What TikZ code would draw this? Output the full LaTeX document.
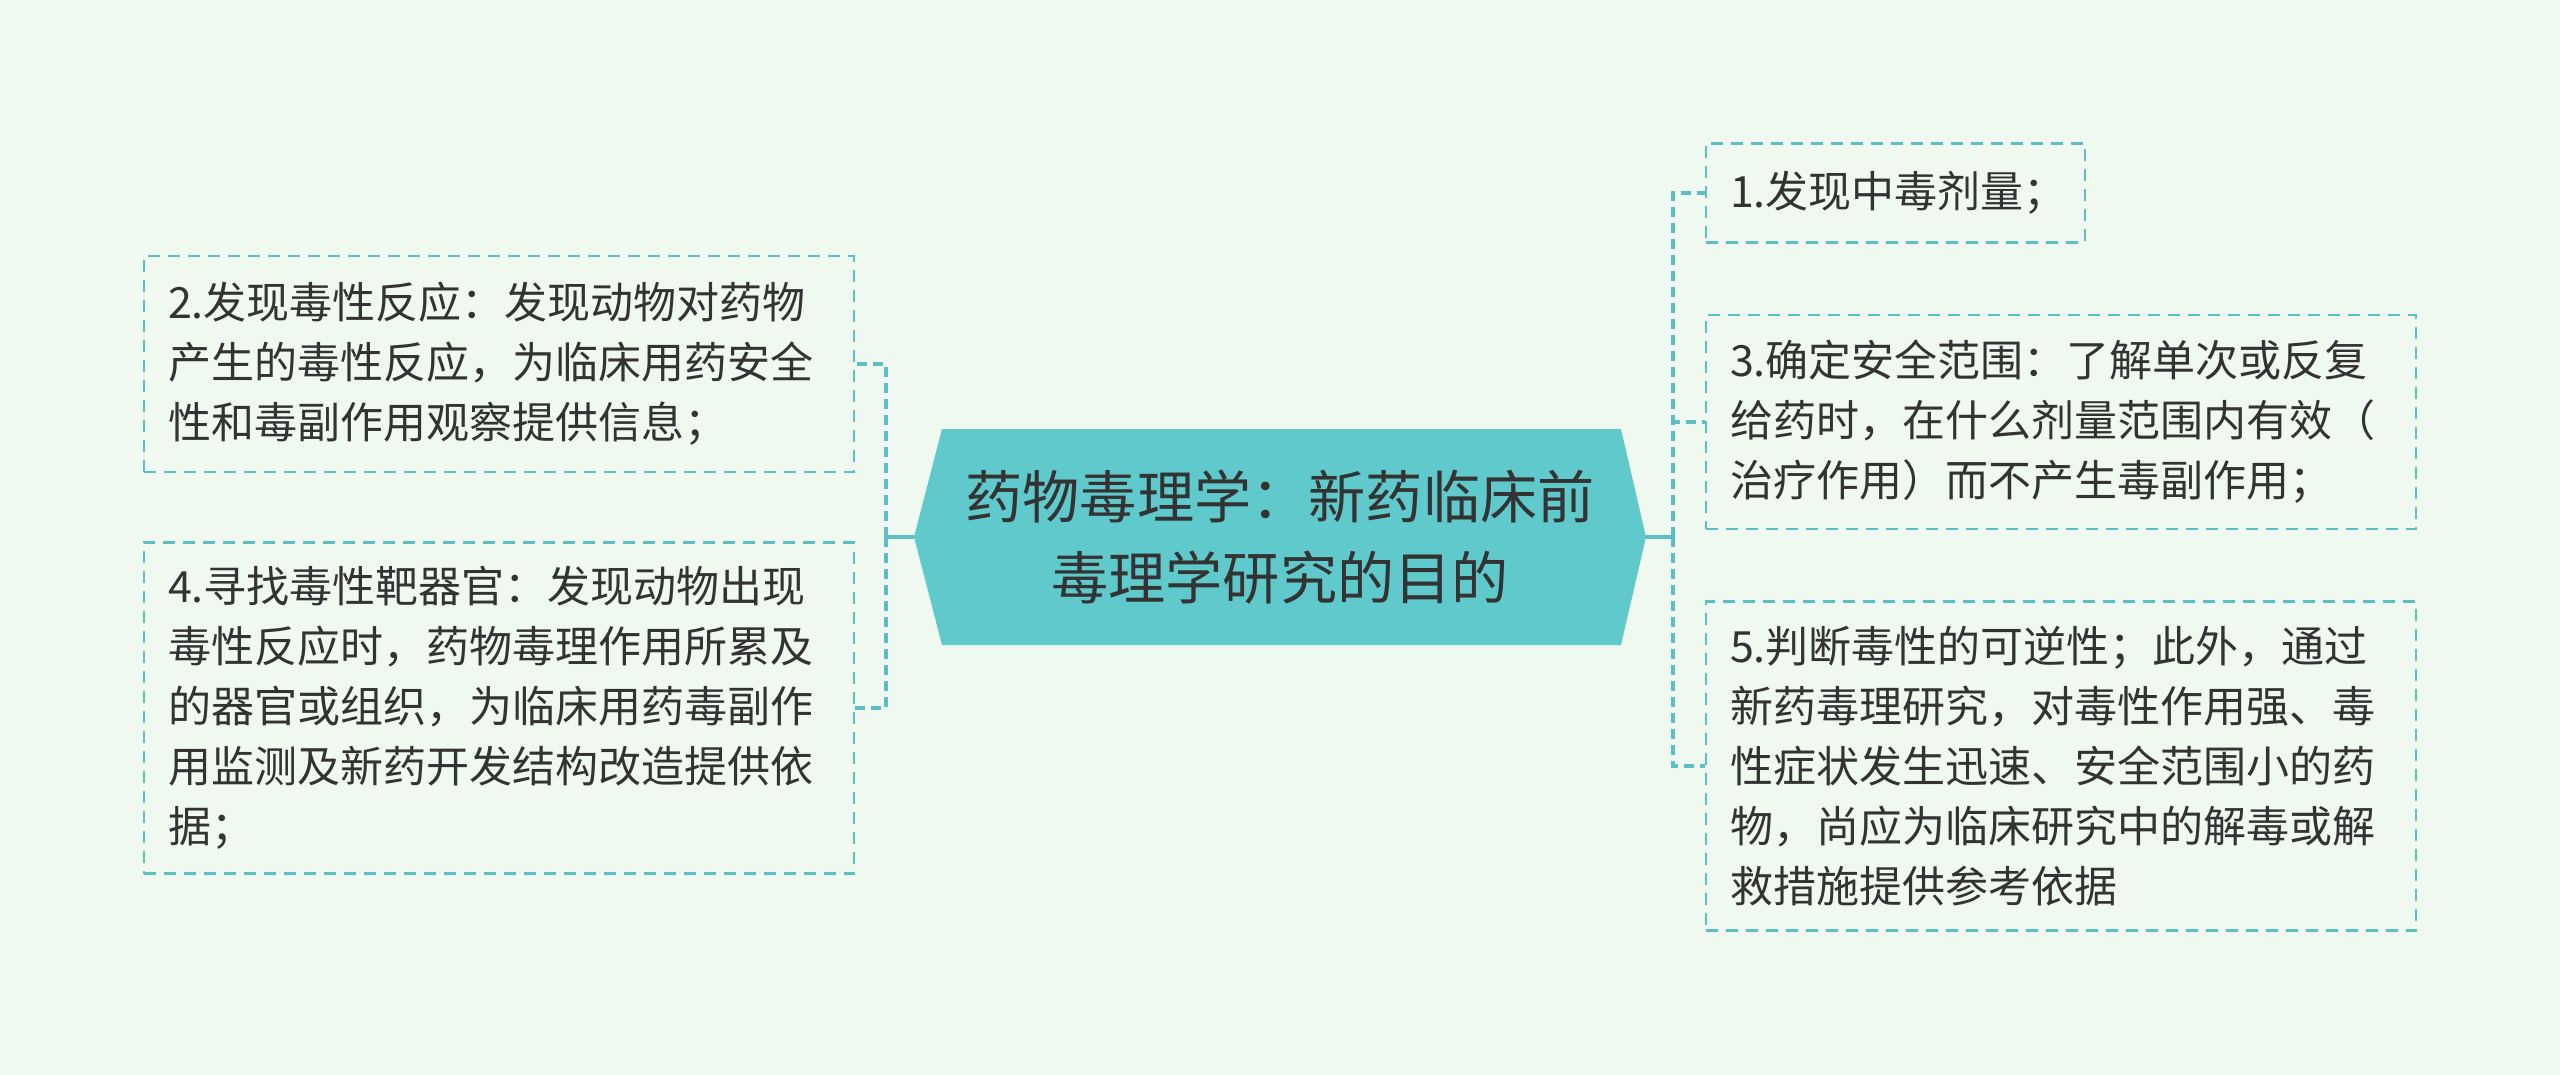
\documentclass[tikz,border=0pt]{standalone}
\usepackage{fontspec}
\setmainfont{Noto Sans CJK SC}
\definecolor{bgcol}{HTML}{F0F9EF}
\definecolor{rootfill}{HTML}{5FC9CC}
\definecolor{linecol}{HTML}{5CBFC4}
\definecolor{txtcol}{HTML}{333333}
\begin{document}
\begin{tikzpicture}[x = 0.5pt, y = -0.5pt,
    leaf/.style = {draw = linecol, line width = 1.2pt, dash pattern = on 6pt off 4pt,
        align = left, inner sep = 12pt, text = txtcol,
        font = \fontsize{21.5}{30}\selectfont},
    link/.style = {draw = linecol, line width = 1.8pt, dash pattern = on 5pt off 3pt},
    stem/.style = {draw = linecol, line width = 1.8pt}]
    \fill[bgcol] (0,0) rectangle (2560,1075);
    \useasboundingbox (0,0) rectangle (2560,1075);
    % central topic
    \coordinate (rootW) at (914,537);
    \coordinate (rootE) at (1646,537);
    \fill[rootfill] (rootW) -- (942,429) -- (1621,429) -- (rootE) -- (1621,645) -- (942,645) -- cycle;
    \node[align = center, text = txtcol, font = \fontsize{28.6}{40.8}\selectfont] (root) at (1280,537)
        {药物毒理学：新药临床前\\毒理学研究的目的};
    % left side
    \node[leaf, text width = 331pt, minimum height = 108pt] (n2) at (499,364)
        {2.发现毒性反应：发现动物对药物\\产生的毒性反应，为临床用药安全\\性和毒副作用观察提供信息；};
    \node[leaf, text width = 331pt, minimum height = 164.5pt] (n4) at (499,708)
        {4.寻找毒性靶器官：发现动物出现\\毒性反应时，药物毒理作用所累及\\的器官或组织，为临床用药毒副作\\用监测及新药开发结构改造提供依\\据；};
    % right side
    \node[leaf, text width = 165.5pt, minimum height = 49.5pt] (n1) at (1895.5,193)
        {1.发现中毒剂量；};
    \node[leaf, text width = 331pt, minimum height = 107pt] (n3) at (2061,422)
        {3.确定安全范围：了解单次或反复\\给药时，在什么剂量范围内有效（\\治疗作用）而不产生毒副作用；};
    \node[leaf, text width = 331pt, minimum height = 164.5pt] (n5) at (2061,766)
        {5.判断毒性的可逆性；此外，通过\\新药毒理研究，对毒性作用强、毒\\性症状发生迅速、安全范围小的药\\物，尚应为临床研究中的解毒或解\\救措施提供参考依据};
    % connectors
    \coordinate (lspine) at (886,537);
    \coordinate (rspine) at (1673,537);
    \draw[stem] (rootW) -- (lspine);
    \draw[stem] (rootE) -- (rspine);
    \draw[link] (lspine) |- (n2.east);
    \draw[link] (lspine) |- (n4.east);
    \draw[link] (rspine) |- (n1.west);
    \draw[link] (rspine) |- (n3.west);
    \draw[link] (rspine) |- (n5.west);
\end{tikzpicture}
\end{document}
